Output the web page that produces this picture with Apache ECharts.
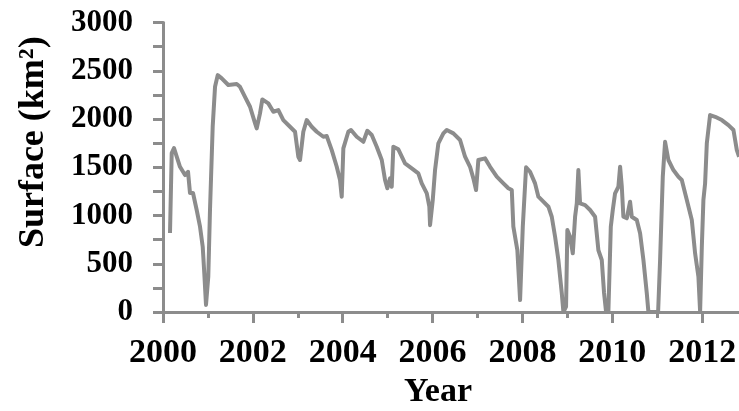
<!DOCTYPE html>
<html>
<head>
<meta charset="utf-8">
<script src="https://cdn.jsdelivr.net/npm/echarts@6/dist/echarts.min.js"></script>
<style>
html,body{margin:0;padding:0;background:#fff;}
#chart{width:739px;height:411px;}
</style>
</head>
<body>
<div id="chart"></div>
<script>
// Decimal year of each observation
var years = [
2000.156,2000.194,2000.245,2000.378,2000.490,2000.557,2000.601,2000.668,2000.750,2000.824,
2000.884,2000.919,2000.957,2001.008,2001.046,2001.106,2001.158,2001.218,2001.307,2001.454,
2001.641,2001.714,2001.825,2001.937,2002.048,2002.086,2002.159,2002.211,2002.344,2002.456,
2002.567,2002.678,2002.827,2002.939,2003.012,2003.050,2003.123,2003.199,2003.310,2003.422,
2003.569,2003.645,2003.756,2003.867,2003.940,2003.978,2004.014,2004.125,2004.185,2004.312,
2004.459,2004.548,2004.646,2004.757,2004.869,2004.942,2004.993,2005.053,2005.091,2005.127,
2005.238,2005.387,2005.537,2005.683,2005.759,2005.871,2005.928,2005.944,2006.004,2006.055,
2006.129,2006.240,2006.316,2006.463,2006.612,2006.723,2006.834,2006.908,2006.968,2007.019,
2007.168,2007.280,2007.429,2007.576,2007.687,2007.763,2007.798,2007.887,2007.948,2008.008,
2008.081,2008.170,2008.281,2008.355,2008.466,2008.578,2008.653,2008.727,2008.800,2008.876,
2008.912,2008.971,2009.000,2009.061,2009.121,2009.172,2009.210,2009.245,2009.283,2009.395,
2009.506,2009.617,2009.691,2009.766,2009.817,2009.862,2009.913,2009.967,2010.011,2010.062,
2010.136,2010.174,2010.212,2010.247,2010.323,2010.396,2010.434,2010.545,2010.619,2010.693,
2010.768,2010.804,2010.886,2011.020,2011.064,2011.124,2011.175,2011.249,2011.360,2011.472,
2011.547,2011.659,2011.770,2011.843,2011.917,2011.955,2011.993,2012.028,2012.066,2012.104,
2012.177,2012.289,2012.438,2012.585,2012.697,2012.772,2012.823
];
// Surface (km2)
var surface = [
818,1647,1699,1505,1419,1453,1233,1233,1057,884,
677,404,73,366,1057,1920,2334,2455,2421,2352,
2362,2334,2230,2127,1958,1903,2058,2203,2162,2075,
2093,1989,1920,1868,1609,1575,1868,1989,1920,1868,
1816,1823,1678,1505,1368,1195,1696,1868,1886,1816,
1764,1878,1834,1713,1575,1368,1282,1385,1298,1713,
1686,1541,1489,1437,1333,1230,1091,900,1160,1471,
1748,1851,1886,1851,1782,1609,1505,1385,1264,1575,
1592,1505,1402,1333,1282,1264,884,642,124,884,
1500,1453,1333,1195,1143,1091,987,780,539,194,
0,55,850,780,608,987,1126,1471,1126,1108,
1057,987,640,539,197,0,0,884,1057,1230,
1298,1505,1298,987,971,1143,987,953,815,539,
194,0,0,0,539,1402,1764,1575,1471,1402,
1368,1160,953,608,366,0,677,1160,1333,1748,
2041,2023,1989,1937,1886,1678,1609
];
var yTickValues = [0,500,1000,1500,2000,2500,3000];
var xTickLabels = [2000,2002,2004,2006,2008,2010,2012];

var seriesData = years.map(function(y,i){return [y, surface[i]];});
var axisGray = '#8c8c8c';
var font = 'Liberation Serif';

var chart = echarts.init(document.getElementById('chart'), null, {renderer:'canvas'});
chart.setOption({
  animation:false,
  backgroundColor:'#ffffff',
  grid:{left:163,right:-53,top:22.5,bottom:99,containLabel:false,outerBoundsMode:'none'},
  xAxis:{
    type:'value',min:2000,max:2014,interval:2,
    name:'Year',nameLocation:'middle',nameGap:61,
    nameTextStyle:{fontFamily:font,fontWeight:'bold',fontSize:34,color:'#000',padding:[0,79,0,0]},
    axisLine:{show:true,onZero:false,lineStyle:{color:axisGray,width:3}},
    axisTick:{show:true,length:11,lineStyle:{color:axisGray,width:3}},
    minorTick:{show:true,splitNumber:2,length:6,lineStyle:{color:axisGray,width:3}},
    splitLine:{show:false},minorSplitLine:{show:false},
    axisLabel:{margin:24,fontFamily:font,fontWeight:'bold',fontSize:34,color:'#000',
      formatter:function(v){return xTickLabels.indexOf(Math.round(v))>=0 && Math.abs(v-Math.round(v))<1e-6 ? String(Math.round(v)) : '';}}
  },
  yAxis:{
    type:'value',min:0,max:3000,interval:250,
    name:'Surface (km²)',nameLocation:'middle',nameGap:111,
    nameTextStyle:{fontFamily:font,fontWeight:'bold',fontSize:36,color:'#000',padding:[0,0,0,50]},
    axisLine:{show:true,lineStyle:{color:axisGray,width:3}},
    axisTick:{show:true,length:10,lineStyle:{color:axisGray,width:3}},
    splitLine:{show:false},
    axisLabel:{margin:30,fontFamily:font,fontWeight:'bold',fontSize:31,color:'#000',
      formatter:function(v){return yTickValues.indexOf(v)>=0 ? String(v) : '';}}
  },
  series:[{
    type:'line',data:seriesData,showSymbol:false,symbol:'none',
    lineStyle:{color:'#8c8c8c',width:4,join:'round'},
    clip:true
  }]
});
</script>
</body>
</html>
